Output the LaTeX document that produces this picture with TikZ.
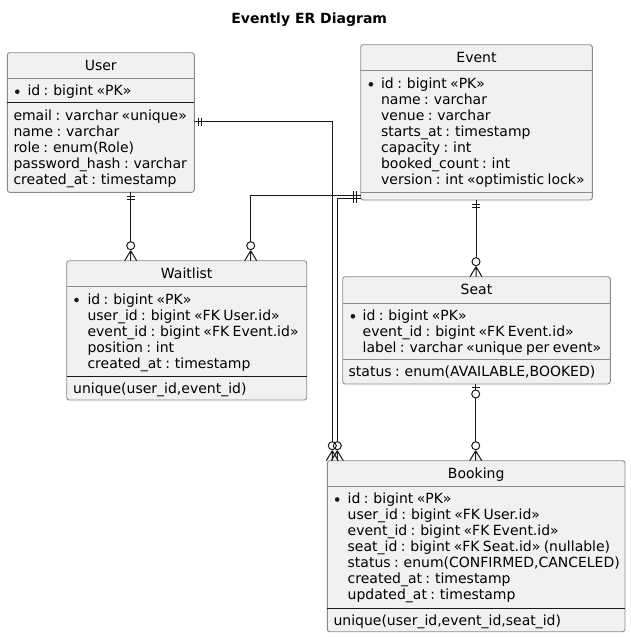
\documentclass[tikz,border=0pt]{standalone}
\usepackage{fontspec}
\setmainfont{DejaVu Sans}
\definecolor{boxfill}{HTML}{F1F1F1}
\definecolor{boxline}{HTML}{8A8A8A}
\definecolor{ink}{HTML}{181818}
\newcommand\fldfont{\fontsize{14}{16}\selectfont\spaceskip=3.4pt\relax}
\tikzset{
  ent/.style={draw=boxline, fill=boxfill, line width=0.9pt, rounded corners=2.5pt, inner sep=0pt, outer sep=0pt, anchor=north west},
  conn/.style={draw=ink, line width=1pt},
  hdr/.style={anchor=base, inner sep=0pt, font=\fldfont, text=black},
  fld/.style={anchor=base west, inner sep=0pt, font=\fldfont, text=black},
  thinsep/.style={draw=boxline, line width=0.9pt},
  thicksep/.style={draw=ink, line width=1pt},
  ttl/.style={anchor=base, inner sep=0pt, font=\bfseries\fontsize{14}{16}\selectfont, text=black},
  one/.pic={\draw[conn] (4,-4)--(4,4) (7,-4)--(7,4);},
  zmany/.pic={\draw[conn] (10,0)--(0,6) (10,0)--(0,0) (10,0)--(0,-6); \draw[conn] (15,0) circle (4);},
  zone/.pic={\draw[conn] (0,0)--(6,0) (3,-4)--(3,4); \draw[conn] (10,0) circle (4);},
}
\begin{document}
\begin{tikzpicture}[x=1pt,y=1pt]
\useasboundingbox (0,0) rectangle (631,-638);

\node[ttl] (title) at (309.2,-23) {Evently ER Diagram};

% ---------- User
\node[ent, minimum width=187pt, minimum height=139.6pt] (user) at (7.3,-52.7) {};
\node[hdr] (userh) at (100.8,-70) {User};
\draw[thinsep] (user.west |- 0,-78.3) -- (user.east |- 0,-78.3);
\fill[ink] (17.3,-91.7) circle (2.3);
\node[fld] (u1) at (27.3,-95.7) {id : bigint «PK»};
\draw[thicksep] (user.west |- 0,-102) -- (user.east |- 0,-102);
\node[fld] (u2) at (13.3,-120) {email : varchar «unique»};
\node[fld] (u3) at (13.3,-136) {name : varchar};
\node[fld] (u4) at (13.3,-152.1) {role : enum(Role)};
\node[fld] (u5) at (13.3,-168.2) {password\_hash : varchar};
\node[fld] (u6) at (13.3,-184.3) {created\_at : timestamp};

% ---------- Event
\node[ent, minimum width=231.6pt, minimum height=155.3pt] (event) at (360.7,-44.7) {};
\node[hdr] (eventh) at (476.5,-62) {Event};
\draw[thinsep] (event.west |- 0,-70.7) -- (event.east |- 0,-70.7);
\fill[ink] (370.9,-84.3) circle (2.3);
\node[fld] (e1) at (380.9,-88.3) {id : bigint «PK»};
\node[fld] (e2) at (380.9,-104.3) {name : varchar};
\node[fld] (e3) at (380.9,-120.3) {venue : varchar};
\node[fld] (e4) at (380.9,-136.3) {starts\_at : timestamp};
\node[fld] (e5) at (380.9,-152.3) {capacity : int};
\node[fld] (e6) at (380.9,-168.3) {booked\_count : int};
\node[fld] (e7) at (380.9,-184.3) {version : int «optimistic lock»};
\draw[thinsep] (event.west |- 0,-192.3) -- (event.east |- 0,-192.3);

% ---------- Waitlist
\node[ent, minimum width=240pt, minimum height=139.3pt] (wait) at (66.7,-260.7) {};
\node[hdr] (waith) at (186.7,-278) {Waitlist};
\draw[thinsep] (wait.west |- 0,-286.7) -- (wait.east |- 0,-286.7);
\fill[ink] (76.5,-300) circle (2.3);
\node[fld] (w1) at (87.3,-304) {id : bigint «PK»};
\node[fld] (w2) at (87.3,-320) {user\_id : bigint «FK User.id»};
\node[fld] (w3) at (87.3,-336) {event\_id : bigint «FK Event.id»};
\node[fld] (w4) at (87.3,-352) {position : int};
\node[fld] (w5) at (87.3,-368.2) {created\_at : timestamp};
\draw[thicksep] (wait.west |- 0,-376.7) -- (wait.east |- 0,-376.7);
\node[fld] (w6) at (73,-393.3) {unique(user\_id,event\_id)};

% ---------- Seat
\node[ent, minimum width=267.6pt, minimum height=107.3pt] (seat) at (342.7,-276.7) {};
\node[hdr] (seath) at (476.5,-294.5) {Seat};
\draw[thinsep] (seat.west |- 0,-303.3) -- (seat.east |- 0,-303.3);
\fill[ink] (352.9,-316.3) circle (2.3);
\node[fld] (s1) at (362.5,-320.3) {id : bigint «PK»};
\node[fld] (s2) at (362.5,-336.3) {event\_id : bigint «FK Event.id»};
\node[fld] (s3) at (362.5,-352.3) {label : varchar «unique per event»};
\draw[thinsep] (seat.west |- 0,-359.3) -- (seat.east |- 0,-359.3);
\node[fld] (s4) at (348.5,-376.7) {status : enum(AVAILABLE,BOOKED)};

% ---------- Booking
\node[ent, minimum width=297.7pt, minimum height=171pt] (book) at (327.3,-460.7) {};
\node[hdr] (bookh) at (476.2,-478) {Booking};
\draw[thinsep] (book.west |- 0,-486) -- (book.east |- 0,-486);
\fill[ink] (337.2,-499.5) circle (2.3);
\node[fld] (b1) at (347.5,-503.5) {id : bigint «PK»};
\node[fld] (b2) at (347.5,-519.5) {user\_id : bigint «FK User.id»};
\node[fld] (b3) at (347.5,-535.5) {event\_id : bigint «FK Event.id»};
\node[fld] (b4) at (347.5,-551.5) {seat\_id : bigint «FK Seat.id» (nullable)};
\node[fld] (b5) at (347.5,-567.5) {status : enum(CONFIRMED,CANCELED)};
\node[fld] (b6) at (347.5,-583.5) {created\_at : timestamp};
\node[fld] (b7) at (347.5,-599.5) {updated\_at : timestamp};
\draw[thicksep] (book.west |- 0,-608.3) -- (book.east |- 0,-608.3);
\node[fld] (b8) at (333.3,-625.3) {unique(user\_id,event\_id,seat\_id)};

% ---------- connectors
\coordinate (uwx) at (130.7,0);
\coordinate (ewx) at (250.7,-195.3);
\coordinate (ubx) at (332.3,-121.7);
\coordinate (ebx) at (337.3,-198.7);
\coordinate (esx) at (476,0);
\coordinate (sbx) at (475.7,0);

% User -- Waitlist
\draw[conn, shorten >=19pt] (uwx |- user.south) -- (uwx |- wait.north);
\path (uwx |- user.south) pic[rotate=-90] {one};
\path (uwx |- wait.north) pic[rotate=90] {zmany};

% Event -- Waitlist
\draw[conn, shorten >=19pt] (event.west |- ewx) -- (ewx) -- (ewx |- wait.north);
\path (event.west |- ewx) pic[rotate=180] {one};
\path (ewx |- wait.north) pic[rotate=90] {zmany};

% User -- Booking
\draw[conn, shorten >=19pt] (user.east |- ubx) -- (ubx) -- (ubx |- book.north);
\path (user.east |- ubx) pic {one};
\path (ubx |- book.north) pic[rotate=90] {zmany};

% Event -- Booking
\draw[conn, shorten >=19pt] (event.west |- ebx) -- (ebx) -- (ebx |- book.north);
\path (event.west |- ebx) pic[rotate=180] {one};
\path (ebx |- book.north) pic[rotate=90] {zmany};

% Event -- Seat
\draw[conn, shorten >=19pt] (esx |- event.south) -- (esx |- seat.north);
\path (esx |- event.south) pic[rotate=-90] {one};
\path (esx |- seat.north) pic[rotate=90] {zmany};

% Seat -- Booking
\draw[conn, shorten <=14pt, shorten >=19pt] (sbx |- seat.south) -- (sbx |- book.north);
\path (sbx |- seat.south) pic[rotate=-90] {zone};
\path (sbx |- book.north) pic[rotate=90] {zmany};
\end{tikzpicture}
\end{document}
